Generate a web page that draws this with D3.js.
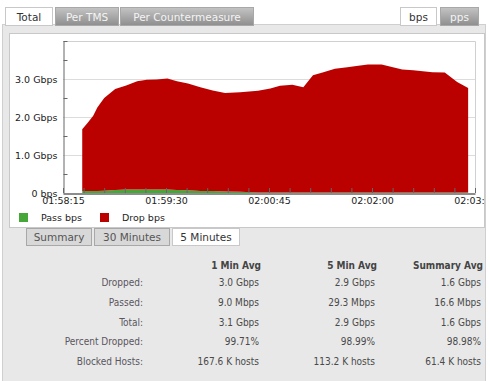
<!DOCTYPE html>
<html>
<head>
<meta charset="utf-8">
<script src="https://cdn.jsdelivr.net/npm/d3@7"></script>
<style>
  body { margin: 0; background: #fff; }
  svg text { font-family: "DejaVu Sans", sans-serif; }
  .tbl text { font-family: "DejaVu Sans Condensed", "DejaVu Sans", sans-serif; font-stretch: condensed; font-size: 10px; }
</style>
</head>
<body>
<svg id="chart" width="490" height="381"></svg>
<script>
// sample times and values (Gbps)
const times = ["01:58:29","01:58:33","01:58:37","01:58:40","01:58:45","01:58:53","01:59:01","01:59:09",
  "01:59:16","01:59:23","01:59:31","01:59:38","01:59:46","01:59:55","02:00:04","02:00:13","02:00:24",
  "02:00:37","02:00:46","02:00:53","02:01:02","02:01:10","02:01:17","02:01:24","02:01:33","02:01:42",
  "02:01:50","02:01:57","02:02:07","02:02:13","02:02:22","02:02:30","02:02:44","02:02:53","02:03:02","02:03:10"];
const passBps = [0.05,0.05,0.05,0.05,0.06,0.08,0.09,0.09,0.09,0.09,0.09,0.08,0.07,0.05,0.05,0.04,0.03,
  0.01,0.01,0.01,0.01,0.01,0.01,0.01,0.01,0.01,0.01,0.01,0.01,0.01,0.01,0.01,0.01,0.01,0.01,0.01];
const dropBps = [1.63,1.80,1.98,2.20,2.44,2.66,2.74,2.85,2.89,2.90,2.92,2.86,2.81,2.73,2.65,2.59,2.62,
  2.68,2.74,2.81,2.84,2.77,3.09,3.16,3.26,3.30,3.34,3.37,3.37,3.32,3.24,3.22,3.17,3.16,2.91,2.75];
const yTicks = [0, 1, 2, 3];
const yLabels = ["0 bps", "1.0 Gbps", "2.0 Gbps", "3.0 Gbps"];
const xTickLabels = ["01:58:15", "01:59:30", "02:00:45", "02:02:00", "02:03:15"];

const topTabs = ["Total", "Per TMS", "Per Countermeasure"];
const unitTabs = ["bps", "pps"];
const rangeTabs = ["Summary", "30 Minutes", "5 Minutes"];
const columns = ["1 Min Avg", "5 Min Avg", "Summary Avg"];
const rowLabels = ["Dropped:", "Passed:", "Total:", "Percent Dropped:", "Blocked Hosts:"];
const rowValues = [
  ["3.0 Gbps", "2.9 Gbps", "1.6 Gbps"],
  ["9.0 Mbps", "29.3 Mbps", "16.6 Mbps"],
  ["3.1 Gbps", "2.9 Gbps", "1.6 Gbps"],
  ["99.71%", "98.99%", "98.98%"],
  ["167.6 K hosts", "113.2 K hosts", "61.4 K hosts"]
];

const svg = d3.select("#chart");
const parse = d3.timeParse("%H:%M:%S");

const defs = svg.append("defs");
const grad = defs.append("linearGradient").attr("id", "tabgrad").attr("x1", 0).attr("y1", 0).attr("x2", 0).attr("y2", 1);
grad.append("stop").attr("offset", "0%").attr("stop-color", "#c4c4c4");
grad.append("stop").attr("offset", "100%").attr("stop-color", "#8e8e8e");
defs.append("clipPath").attr("id", "boxclip").append("rect")
  .attr("x", 9).attr("y", 33).attr("width", 475).attr("height", 195);

// grey panel
svg.append("rect").attr("x", 2.5).attr("y", 24.5).attr("width", 483).attr("height", 360)
  .attr("fill", "#e8e8e8").attr("stroke", "#cfcfcf");

// tabs
function drawTabs(names, xs, ws, y, h, active, plain) {
  names.forEach((n, i) => {
    const on = i === active;
    svg.append("rect").attr("x", xs[i] + 0.5).attr("y", y + 0.5).attr("width", ws[i]).attr("height", h)
      .attr("fill", on ? "#fff" : (plain ? "#d8d8d8" : "url(#tabgrad)"))
      .attr("stroke", on ? "#c8c8c8" : "#a8a8a8");
    svg.append("text").attr("x", xs[i] + ws[i] / 2 + 0.5).attr("y", y + h / 2 + 4.5)
      .attr("text-anchor", "middle").attr("font-size", 10.5)
      .attr("fill", on ? "#333" : (plain ? "#555" : "#f4f4f4")).text(n);
  });
}
drawTabs(topTabs, [5, 55, 120], [47, 63, 133], 7, 18, 0, false);
drawTabs(unitTabs, [400, 440], [36, 38], 7, 18, 0, false);

// chart box
svg.append("rect").attr("x", 9.5).attr("y", 33.5).attr("width", 475).attr("height", 194)
  .attr("fill", "#fff").attr("stroke", "#c8c8c8");

const plot = { left: 63, right: 475, top: 41, bottom: 193 };
const x = d3.scaleTime().domain([parse("01:58:15"), parse("02:03:15")]).range([plot.left, plot.right]);
const y = d3.scaleLinear().domain([0, 4]).range([plot.bottom, plot.top]);

const g = svg.append("g").attr("clip-path", "url(#boxclip)");

// grid + frame
g.selectAll(".grid").data([1, 2, 3]).join("line")
  .attr("x1", plot.left).attr("x2", plot.right)
  .attr("y1", d => Math.round(y(d)) + 0.5).attr("y2", d => Math.round(y(d)) + 0.5)
  .attr("stroke", "#dcdcdc");
g.append("path").attr("d", `M${plot.left},${plot.top + 0.5}H${plot.right + 0.5}V${plot.bottom}`)
  .attr("fill", "none").attr("stroke", "#d0d0d0");

// stacked areas
const rows = times.map((t, i) => ({ date: parse(t), pass: passBps[i], drop: dropBps[i] }));
const stack = d3.stack().keys(["pass", "drop"])(rows);
const colors = { pass: "#45a737", drop: "#bb0000" };
const area = d3.area().x(d => x(d.data.date)).y0(d => y(d[0])).y1(d => y(d[1]));
g.selectAll(".layer").data(stack).join("path")
  .attr("fill", d => colors[d.key]).attr("d", area);

// axes
const yAxis = g.append("g").attr("transform", `translate(${plot.left + 0.5},0)`)
  .call(d3.axisLeft(y).tickValues(yTicks).tickSize(0).tickPadding(6).tickFormat((d, i) => yLabels[i]));
yAxis.select(".domain").attr("stroke", "#666");
yAxis.selectAll(".tick text").attr("font-family", "DejaVu Sans").attr("font-size", 9.5).attr("fill", "#222");
g.append("g").attr("transform", `translate(${plot.left + 0.5},0)`)
  .call(d3.axisRight(y).tickValues([0.5, 1.5, 2.5, 3.5, 4]).tickSize(4).tickFormat(""))
  .call(a => a.select(".domain").remove())
  .call(a => a.selectAll("line").attr("stroke", "#666"));

const xAxis = g.append("g").attr("transform", `translate(0,${plot.bottom + 0.5})`)
  .call(d3.axisBottom(x).tickValues(xTickLabels.map(parse)).tickSize(0).tickPadding(4)
    .tickFormat(d3.timeFormat("%H:%M:%S")));
xAxis.select(".domain").attr("stroke", "#666").attr("stroke-width", 1.5);
xAxis.selectAll(".tick text").attr("font-family", "DejaVu Sans").attr("font-size", 9.5).attr("fill", "#222");
g.append("g").attr("transform", `translate(0,${plot.bottom})`)
  .call(d3.axisTop(x).ticks(d3.timeSecond.every(15)).tickSize(5).tickFormat(""))
  .call(a => a.select(".domain").remove())
  .call(a => a.selectAll("line").attr("stroke", "#666"));

// legend
const legend = [["Pass bps", colors.pass, 19], ["Drop bps", colors.drop, 100]];
legend.forEach(([name, c, lx]) => {
  svg.append("rect").attr("x", lx).attr("y", 213).attr("width", 9).attr("height", 9).attr("fill", c);
  svg.append("text").attr("x", lx + 22).attr("y", 221).attr("font-size", 9.5).attr("fill", "#222").text(name);
});

// range tabs
drawTabs(rangeTabs, [26, 94, 172], [65, 75, 67], 228, 17, 2, true);

// table
const tbl = svg.append("g").attr("class", "tbl");
const colX = [261, 377, 483];
columns.forEach((c, i) => {
  tbl.append("text").attr("x", colX[i]).attr("y", 269).attr("text-anchor", "end")
    .attr("font-weight", "bold").attr("fill", "#444").text(c);
});
rowLabels.forEach((r, j) => {
  const ry = 286 + j * 19.8;
  tbl.append("text").attr("x", 143).attr("y", ry).attr("text-anchor", "end").attr("fill", "#5a5560").text(r);
  rowValues[j].forEach((v, i) => {
    tbl.append("text").attr("x", colX[i] - 2).attr("y", ry).attr("text-anchor", "end").attr("fill", "#4a4a4a").text(v);
  });
});
</script>
</body>
</html>
